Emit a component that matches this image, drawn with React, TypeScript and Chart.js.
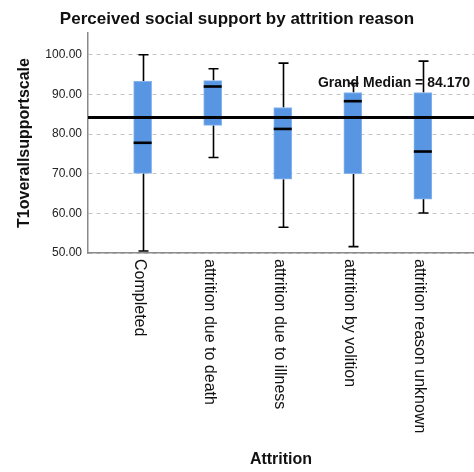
import React, { useEffect, useRef } from "react";
import { Chart, registerables } from "chart.js";

Chart.register(...registerables);

const categories = [
  "Completed",
  "attrition due to death",
  "attrition due to illness",
  "attrition by volition",
  "attrition reason unknown",
];
const minValues = [50.5, 74.1, 56.5, 51.6, 60.1];
const q1Values = [70.1, 82.2, 68.6, 70.0, 63.6];
const medianValues = [77.8, 92.0, 81.3, 88.3, 75.6];
const q3Values = [93.3, 93.5, 86.7, 90.5, 90.5];
const maxValues = [100.0, 96.5, 97.9, 92.8, 98.4];
const grandMedian = 84.17;
const yTicks = [50, 60, 70, 80, 90, 100];

const FONT = "'Liberation Sans', Arial, sans-serif";

const boxPlugin = {
  id: "boxExtras",
  beforeDatasetsDraw(chart: any) {
    const { ctx } = chart;
    const xs = chart.scales.x;
    const ys = chart.scales.y;
    ctx.save();
    ctx.strokeStyle = "#000";
    ctx.lineWidth = 1.6;
    categories.forEach((_, i) => {
      const x = Math.round(xs.getPixelForValue(i)) + 0.5;
      const yMin = ys.getPixelForValue(minValues[i]);
      const yMax = ys.getPixelForValue(maxValues[i]);
      const yQ1 = ys.getPixelForValue(q1Values[i]);
      const yQ3 = ys.getPixelForValue(q3Values[i]);
      ctx.beginPath();
      ctx.moveTo(x, yQ3);
      ctx.lineTo(x, yMax);
      ctx.moveTo(x, yQ1);
      ctx.lineTo(x, yMin);
      ctx.moveTo(x - 5, yMax);
      ctx.lineTo(x + 5, yMax);
      ctx.moveTo(x - 5, yMin);
      ctx.lineTo(x + 5, yMin);
      ctx.stroke();
    });
    ctx.restore();
  },
  afterDatasetsDraw(chart: any) {
    const { ctx, chartArea } = chart;
    const xs = chart.scales.x;
    const ys = chart.scales.y;
    ctx.save();
    // medians
    ctx.strokeStyle = "#000";
    ctx.lineWidth = 2.6;
    categories.forEach((_, i) => {
      const x = xs.getPixelForValue(i);
      const y = ys.getPixelForValue(medianValues[i]);
      ctx.beginPath();
      ctx.moveTo(x - 9, y);
      ctx.lineTo(x + 9, y);
      ctx.stroke();
    });
    // grand median
    const gy = ys.getPixelForValue(grandMedian);
    ctx.lineWidth = 3;
    ctx.beginPath();
    ctx.moveTo(chartArea.left, gy);
    ctx.lineTo(chartArea.right, gy);
    ctx.stroke();
    ctx.fillStyle = "#111";
    ctx.font = `bold 14px ${FONT}`;
    ctx.textAlign = "right";
    ctx.textBaseline = "middle";
    ctx.fillText(`Grand Median = ${grandMedian.toFixed(3)}`, chartArea.right - 4, gy - 34);
    // x labels, rotated clockwise
    ctx.font = `16px ${FONT}`;
    ctx.fillStyle = "#111";
    ctx.textAlign = "left";
    ctx.textBaseline = "middle";
    categories.forEach((c, i) => {
      const x = xs.getPixelForValue(i) - 3;
      ctx.save();
      ctx.translate(x, chartArea.bottom + 6);
      ctx.rotate(Math.PI / 2);
      ctx.fillText(c, 0, 0);
      ctx.restore();
    });
    ctx.restore();
  },
};

export default function App() {
  const ref = useRef<HTMLCanvasElement>(null);
  useEffect(() => {
    document.body.style.margin = "0";
    const chart = new Chart(ref.current!, {
      type: "bar",
      data: {
        datasets: [
          {
            data: categories.map((_, i) => ({ x: i, y: [q1Values[i], q3Values[i]] })) as any,
            backgroundColor: "#5896e3",
            borderColor: "#86b5ee",
            borderWidth: 1,
            borderSkipped: false,
            barThickness: 18,
          },
        ],
      },
      options: {
        responsive: false,
        animation: false,
        layout: { padding: 0 },
        plugins: {
          legend: { display: false },
          tooltip: { enabled: false },
          title: {
            display: true,
            text: "Perceived social support by attrition reason",
            color: "#111",
            font: { family: FONT, size: 17, weight: "bold" },
            padding: { top: 9, bottom: 3.6 },
          },
        },
        scales: {
          x: {
            type: "linear",
            offset: false,
            min: -0.78,
            max: 4.73,
            afterBuildTicks: (s: any) => {
              s.ticks = categories.map((_, i) => ({ value: i }));
            },
            afterFit: (s: any) => {
              s.height = 219;
            },
            ticks: { display: false },
            grid: { display: false, drawTicks: false, offset: false },
            border: { display: true, color: "#8a8a8a", width: 1.5 },
            title: {
              display: true,
              text: "Attrition",
              color: "#111",
              font: { family: FONT, size: 16, weight: "bold" },
              padding: { top: 0, bottom: 2.5 },
            },
          },
          y: {
            type: "linear",
            min: 50,
            max: 105.5,
            afterBuildTicks: (s: any) => {
              s.ticks = yTicks.map((v) => ({ value: v }));
            },
            afterFit: (s: any) => {
              s.width = 88;
            },
            ticks: {
              padding: 6,
              color: "#222",
              font: { family: FONT, size: 12 },
              callback: (v: any) => Number(v).toFixed(2),
            },
            grid: { color: "#c4c4c4", lineWidth: 1, drawTicks: false },
            border: { display: true, color: "#8a8a8a", width: 1.5, dash: [4, 4] },
            title: {
              display: true,
              text: "T1overallsupportscale",
              color: "#111",
              font: { family: FONT, size: 16, weight: "bold" },
              padding: { top: 15, bottom: 0 },
            },
          },
        },
      },
      plugins: [boxPlugin],
    });
    return () => chart.destroy();
  }, []);
  return (
    <div style={{ width: 474, height: 472 }}>
      <canvas ref={ref} width={474} height={472} />
    </div>
  );
}
